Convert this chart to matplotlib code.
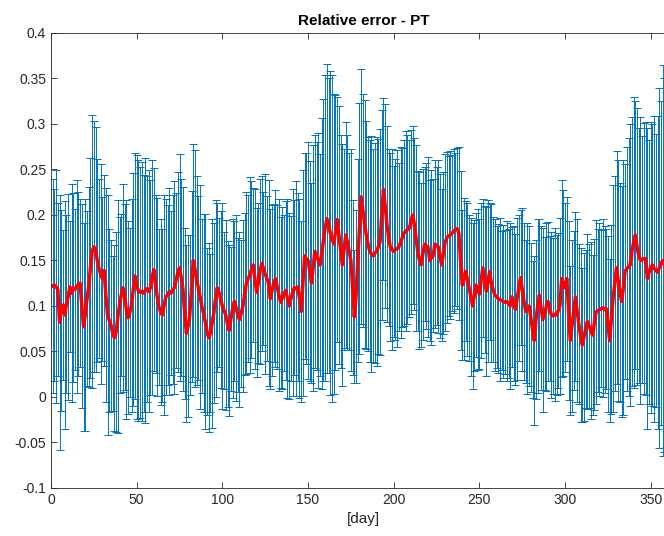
import matplotlib
matplotlib.use('Agg')
import matplotlib.pyplot as plt
import numpy as np
from matplotlib.ticker import FuncFormatter

plt.rcParams['font.family'] = ['Liberation Sans', 'DejaVu Sans']

days = np.arange(1, 366)

# mean relative error per day (red line)
mean_err = [
    0.122, 0.123, 0.121, 0.118, 0.082, 0.095, 0.101, 0.090, 0.102, 0.110,
    0.121, 0.114, 0.120, 0.118, 0.121, 0.124, 0.125, 0.100, 0.077, 0.090,
    0.108, 0.121, 0.142, 0.160, 0.165, 0.162, 0.150, 0.141, 0.135, 0.130,
    0.139, 0.112, 0.090, 0.084, 0.079, 0.070, 0.065, 0.071, 0.088, 0.101,
    0.112, 0.120, 0.110, 0.096, 0.087, 0.093, 0.101, 0.118, 0.133, 0.121,
    0.117, 0.115, 0.116, 0.114, 0.117, 0.119, 0.116, 0.120, 0.131, 0.140,
    0.124, 0.110, 0.099, 0.093, 0.090, 0.101, 0.110, 0.112, 0.116, 0.114,
    0.118, 0.120, 0.128, 0.137, 0.142, 0.131, 0.119, 0.092, 0.070, 0.078,
    0.090, 0.121, 0.150, 0.141, 0.128, 0.120, 0.110, 0.100, 0.092, 0.083,
    0.072, 0.065, 0.070, 0.081, 0.092, 0.108, 0.120, 0.115, 0.107, 0.100,
    0.095, 0.090, 0.080, 0.073, 0.086, 0.097, 0.105, 0.098, 0.090, 0.085,
    0.092, 0.100, 0.113, 0.125, 0.130, 0.134, 0.140, 0.145, 0.130, 0.115,
    0.125, 0.138, 0.147, 0.141, 0.135, 0.130, 0.125, 0.108, 0.117, 0.125,
    0.130, 0.121, 0.112, 0.104, 0.109, 0.114, 0.117, 0.108, 0.100, 0.108,
    0.115, 0.120, 0.119, 0.121, 0.108, 0.094, 0.125, 0.155, 0.152, 0.150,
    0.138, 0.125, 0.142, 0.160, 0.155, 0.150, 0.145, 0.158, 0.172, 0.186,
    0.196, 0.188, 0.180, 0.174, 0.168, 0.181, 0.195, 0.178, 0.160, 0.145,
    0.162, 0.178, 0.170, 0.160, 0.150, 0.120, 0.088, 0.110, 0.150, 0.185,
    0.220, 0.205, 0.190, 0.178, 0.168, 0.160, 0.157, 0.155, 0.158, 0.160,
    0.165, 0.170, 0.200, 0.228, 0.210, 0.190, 0.175, 0.165, 0.162, 0.160,
    0.162, 0.163, 0.165, 0.170, 0.175, 0.180, 0.182, 0.184, 0.185, 0.192,
    0.200, 0.190, 0.175, 0.160, 0.150, 0.145, 0.157, 0.168, 0.166, 0.165,
    0.150, 0.153, 0.155, 0.168, 0.166, 0.165, 0.155, 0.145, 0.158, 0.170,
    0.175, 0.177, 0.178, 0.180, 0.182, 0.184, 0.185, 0.180, 0.150, 0.123,
    0.130, 0.138, 0.129, 0.120, 0.110, 0.100, 0.111, 0.123, 0.118, 0.113,
    0.128, 0.142, 0.129, 0.116, 0.127, 0.138, 0.125, 0.118, 0.112, 0.110,
    0.108, 0.107, 0.106, 0.105, 0.104, 0.105, 0.103, 0.100, 0.110, 0.103,
    0.096, 0.108, 0.120, 0.131, 0.118, 0.105, 0.094, 0.097, 0.100, 0.087,
    0.074, 0.062, 0.085, 0.100, 0.112, 0.098, 0.085, 0.092, 0.099, 0.105,
    0.097, 0.090, 0.089, 0.091, 0.090, 0.095, 0.100, 0.130, 0.125, 0.120,
    0.130, 0.095, 0.062, 0.078, 0.095, 0.110, 0.095, 0.080, 0.068, 0.057,
    0.066, 0.075, 0.083, 0.078, 0.073, 0.068, 0.080, 0.093, 0.095, 0.096,
    0.097, 0.098, 0.096, 0.097, 0.080, 0.062, 0.085, 0.108, 0.125, 0.142,
    0.128, 0.115, 0.105, 0.120, 0.138, 0.141, 0.143, 0.145, 0.160, 0.170,
    0.178, 0.165, 0.155, 0.150, 0.151, 0.152, 0.152, 0.130, 0.137, 0.142,
    0.145, 0.141, 0.139, 0.137, 0.142, 0.147, 0.150, 0.145, 0.140, 0.138,
    0.140, 0.142, 0.139, 0.141, 0.140,
]

# error bar half-widths per day
std_err = [
    0.118, 0.105, 0.128, 0.095, 0.140, 0.110, 0.082, 0.125, 0.098, 0.113,
    0.072, 0.120, 0.104, 0.088, 0.117, 0.101, 0.092, 0.112, 0.114, 0.127,
    0.096, 0.110, 0.121, 0.150, 0.138, 0.135, 0.112, 0.098, 0.121, 0.090,
    0.105, 0.118, 0.132, 0.100, 0.094, 0.085, 0.102, 0.110, 0.128, 0.097,
    0.089, 0.114, 0.102, 0.120, 0.106, 0.093, 0.117, 0.128, 0.135, 0.145,
    0.143, 0.138, 0.142, 0.130, 0.146, 0.124, 0.133, 0.118, 0.129, 0.112,
    0.098, 0.109, 0.086, 0.102, 0.095, 0.121, 0.108, 0.099, 0.114, 0.090,
    0.104, 0.117, 0.096, 0.110, 0.125, 0.108, 0.112, 0.094, 0.097, 0.100,
    0.088, 0.105, 0.128, 0.130, 0.115, 0.101, 0.123, 0.096, 0.109, 0.118,
    0.092, 0.104, 0.087, 0.115, 0.099, 0.108, 0.093, 0.082, 0.097, 0.113,
    0.086, 0.104, 0.091, 0.094, 0.079, 0.098, 0.088, 0.102, 0.085, 0.096,
    0.081, 0.094, 0.089, 0.100, 0.092, 0.108, 0.097, 0.085, 0.099, 0.093,
    0.088, 0.102, 0.096, 0.084, 0.110, 0.091, 0.113, 0.099, 0.094, 0.087,
    0.097, 0.090, 0.105, 0.094, 0.100, 0.086, 0.098, 0.109, 0.102, 0.091,
    0.114, 0.096, 0.118, 0.103, 0.109, 0.099, 0.124, 0.113, 0.116, 0.130,
    0.121, 0.110, 0.135, 0.128, 0.125, 0.140, 0.122, 0.149, 0.155, 0.168,
    0.170, 0.162, 0.178, 0.180, 0.165, 0.151, 0.135, 0.142, 0.128, 0.133,
    0.110, 0.124, 0.118, 0.108, 0.122, 0.096, 0.073, 0.095, 0.112, 0.138,
    0.140, 0.128, 0.136, 0.125, 0.118, 0.122, 0.130, 0.117, 0.121, 0.126,
    0.118, 0.124, 0.115, 0.100, 0.112, 0.108, 0.097, 0.103, 0.110, 0.094,
    0.099, 0.108, 0.092, 0.105, 0.098, 0.102, 0.110, 0.104, 0.097, 0.101,
    0.098, 0.095, 0.102, 0.088, 0.097, 0.090, 0.094, 0.085, 0.091, 0.099,
    0.088, 0.096, 0.084, 0.092, 0.087, 0.095, 0.090, 0.083, 0.089, 0.097,
    0.094, 0.088, 0.092, 0.086, 0.090, 0.084, 0.088, 0.095, 0.098, 0.082,
    0.089, 0.077, 0.084, 0.080, 0.087, 0.091, 0.083, 0.079, 0.088, 0.082,
    0.085, 0.076, 0.081, 0.093, 0.089, 0.075, 0.087, 0.080, 0.084, 0.078,
    0.082, 0.090, 0.076, 0.084, 0.079, 0.088, 0.082, 0.091, 0.077, 0.085,
    0.083, 0.089, 0.080, 0.074, 0.090, 0.086, 0.079, 0.094, 0.088, 0.082,
    0.075, 0.093, 0.087, 0.096, 0.083, 0.090, 0.101, 0.084, 0.092, 0.087,
    0.080, 0.091, 0.086, 0.095, 0.088, 0.085, 0.097, 0.108, 0.102, 0.093,
    0.090, 0.098, 0.082, 0.095, 0.087, 0.093, 0.100, 0.088, 0.096, 0.085,
    0.092, 0.087, 0.096, 0.090, 0.097, 0.088, 0.094, 0.101, 0.089, 0.095,
    0.086, 0.098, 0.092, 0.088, 0.097, 0.090, 0.104, 0.125, 0.118, 0.128,
    0.132, 0.120, 0.127, 0.140, 0.118, 0.134, 0.142, 0.155, 0.148, 0.160,
    0.147, 0.152, 0.140, 0.158, 0.136, 0.149, 0.150, 0.165, 0.145, 0.160,
    0.155, 0.168, 0.150, 0.172, 0.198, 0.178, 0.215, 0.205, 0.195, 0.190,
    0.185, 0.190, 0.180, 0.188, 0.182,
]

fig = plt.figure(figsize=(6.64, 5.36), dpi=100)
# axes runs past the right edge, like the cropped original
ax = fig.add_axes([0.0768, 0.0896, 0.942, 0.849])

ax.errorbar(days, mean_err, yerr=std_err, fmt='none', ecolor='#0072BD',
            elinewidth=0.7, capsize=3, capthick=0.7)
ax.plot(days, mean_err, color='red', linewidth=2.5)

ax.set_xlim(0, 365)
ax.set_ylim(-0.1, 0.4)
ax.set_xticks(np.arange(0, 351, 50))
ax.set_yticks(np.arange(-0.1, 0.401, 0.05))
ax.yaxis.set_major_formatter(FuncFormatter(lambda v, p: '%g' % round(v, 2)))

ax.tick_params(direction='in', top=True, right=True, length=4, width=0.6,
               labelsize=10, colors='#262626')
for s in ax.spines.values():
    s.set_color('#262626')
    s.set_linewidth(0.6)

ax.set_xlabel('[day]', fontsize=11, color='#262626')
ax.set_title('Relative error - PT', fontsize=11, fontweight='bold', pad=6)

fig.savefig('out.png', dpi=100)
